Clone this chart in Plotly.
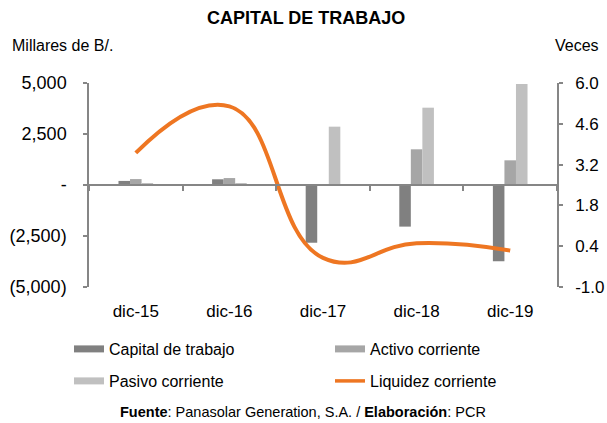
import plotly.graph_objects as go

categories = ["dic-15", "dic-16", "dic-17", "dic-18", "dic-19"]
capital_trabajo = [200, 280, -2830, -2040, -3740]
activo_corriente = [290, 340, 30, 1750, 1210]
pasivo_corriente = [90, 60, 2860, 3790, 4950]
liquidez_corriente = [3.6, 5.2, 0.0, 0.5, 0.25]

left_tickvals = [5000, 2500, 0, -2500, -5000]
left_ticktext = ["5,000", "2,500", "-", "(2,500)", "(5,000)"]
right_tickvals = [6.0, 4.6, 3.2, 1.8, 0.4, -1.0]
right_ticktext = [f"{v:.1f}" for v in right_tickvals]

C_CAP = "#808080"
C_ACT = "#a6a6a6"
C_PAS = "#c0c0c0"
C_LIQ = "#ee7622"
AX = "#868686"
FONT = "Liberation Sans, Arial, sans-serif"

W, H = 607, 423
L, R, T, B = 89, 50, 83, 136
PW, PH = W - L - R, H - T - B


def px_x(px):
    return (px - L) / PW


def px_y(py):
    return (H - B - py) / PH


fig = go.Figure()
for name, vals, col in [("Capital de trabajo", capital_trabajo, C_CAP),
                        ("Activo corriente", activo_corriente, C_ACT),
                        ("Pasivo corriente", pasivo_corriente, C_PAS)]:
    fig.add_trace(go.Bar(x=categories, y=vals, name=name, marker=dict(color=col, line=dict(width=0)),
                         showlegend=False))

fig.add_trace(go.Scatter(x=categories, y=liquidez_corriente, name="Liquidez corriente", mode="lines",
                         line=dict(color=C_LIQ, width=4, shape="spline", smoothing=1.3),
                         xaxis="x2", yaxis="y2", showlegend=False))

legend_items = [("Capital de trabajo", C_CAP, 7, "legend"), ("Activo corriente", C_ACT, 7, "legend"),
                ("Pasivo corriente", C_PAS, 7, "legend2"), ("Liquidez corriente", C_LIQ, 3.5, "legend2")]
for name, col, w, lg in legend_items:
    fig.add_trace(go.Scatter(x=[None], y=[None], mode="lines", name=name, line=dict(color=col, width=w),
                             legend=lg, showlegend=True))

leg_common = dict(orientation="h", xanchor="left", yanchor="middle", entrywidth=216,
                  entrywidthmode="pixels", font=dict(size=16), bgcolor="rgba(0,0,0,0)")

fig.update_layout(
    width=W, height=H,
    margin=dict(l=L, r=R, t=T, b=B, autoexpand=False),
    paper_bgcolor="white", plot_bgcolor="white",
    font=dict(family=FONT, size=16, color="#000000"),
    barmode="group", bargap=0.63, bargroupgap=0,
    xaxis=dict(type="category", showline=False, ticks="", showgrid=False, zeroline=False,
               tickfont=dict(size=17), ticklabelstandoff=12, automargin=False),
    xaxis2=dict(type="category", matches="x", overlaying="x", anchor="free", position=0.5,
                showline=True, linecolor=AX, linewidth=1.5, ticks="outside", tickson="boundaries",
                ticklen=5, tickcolor=AX, tickwidth=1.5, showticklabels=False, showgrid=False,
                automargin=False),
    yaxis=dict(range=[-5000, 5000], tickvals=left_tickvals, ticktext=left_ticktext,
               showline=True, linecolor=AX, linewidth=1.5, ticks="outside", ticklen=4, tickcolor=AX,
               tickwidth=1.5, showgrid=False, zeroline=False, tickfont=dict(size=18),
               ticklabelstandoff=13, automargin=False),
    yaxis2=dict(range=[-1, 6], tickvals=right_tickvals, ticktext=right_ticktext, overlaying="y",
                side="right", anchor="x", showline=True, linecolor=AX, linewidth=1.5, ticks="outside",
                ticklen=4, tickcolor=AX, tickwidth=1.5, showgrid=False, zeroline=False,
                tickfont=dict(size=17), ticklabelstandoff=9, automargin=False),
    legend=dict(x=px_x(69), y=px_y(349), **leg_common),
    legend2=dict(x=px_x(69), y=px_y(381), **leg_common),
    annotations=[
        dict(text="<b>CAPITAL DE TRABAJO</b>", x=px_x(306), y=px_y(18), xanchor="center",
             font=dict(size=18)),
        dict(text="Millares de B/.", x=px_x(10), y=px_y(45), xanchor="left", font=dict(size=16)),
        dict(text="Veces", x=px_x(601), y=px_y(45), xanchor="right", font=dict(size=16)),
        dict(text="<b>Fuente</b>: Panasolar Generation, S.A. / <b>Elaboración</b>: PCR",
             x=px_x(303), y=px_y(412), xanchor="center", font=dict(size=14.5)),
    ],
)
for a in fig.layout.annotations:
    a.update(xref="paper", yref="paper", yanchor="middle", showarrow=False)

fig.write_html("out.html", config={"displayModeBar": False},
               post_script="document.body.style.margin='0';document.body.style.overflow='hidden';")
